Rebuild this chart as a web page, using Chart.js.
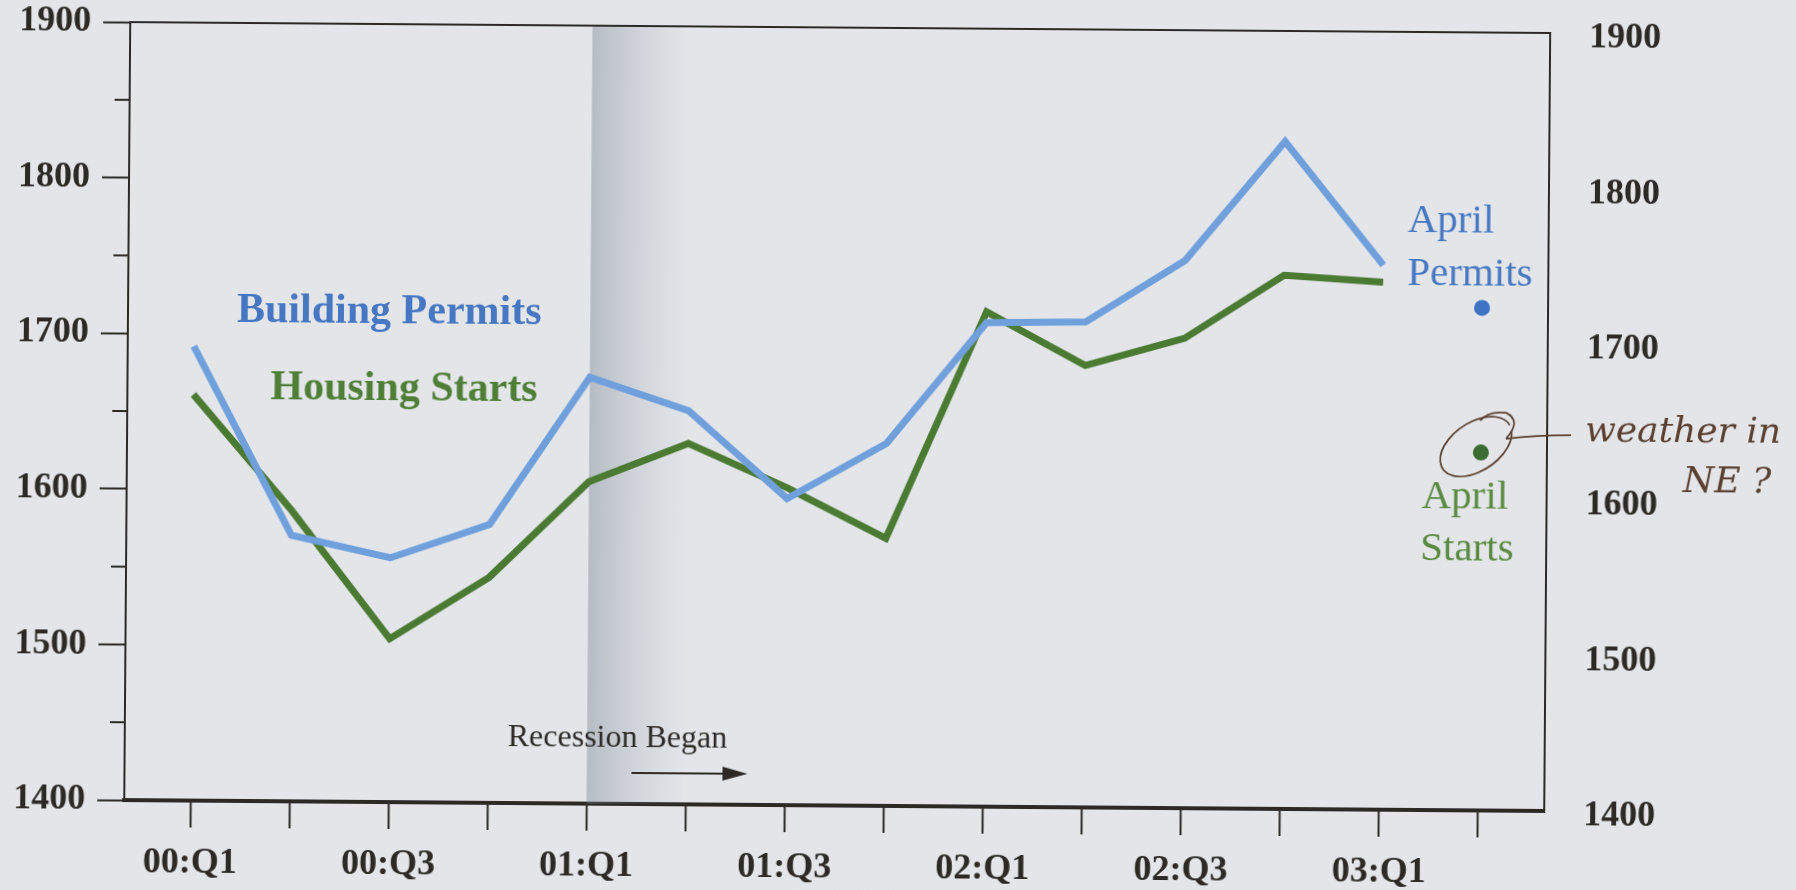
<!DOCTYPE html>
<html>
<head>
<meta charset="utf-8">
<script src="https://cdn.jsdelivr.net/npm/chart.js@4.4.1/dist/chart.umd.min.js"></script>
<style>
  html, body { margin: 0; padding: 0; background: #e3e5e9; overflow: hidden; }
  #wrap { width: 1796px; height: 890px; transform: rotate(0.44deg); transform-origin: 50% 50%; }
  canvas { display: block; }
</style>
</head>
<body>
<div id="wrap"><canvas id="chart" width="1796" height="890"></canvas></div>
<script>
// Quarterly housing data, thousands of units (annual rate)
const quarters = ['00:Q1', '00:Q2', '00:Q3', '00:Q4', '01:Q1', '01:Q2', '01:Q3',
                  '01:Q4', '02:Q1', '02:Q2', '02:Q3', '02:Q4', '03:Q1', '03:Q2'];
const buildingPermits = [1692, 1571, 1557, 1579, 1674, 1653, 1597, 1633, 1711, 1712, 1752, 1829, 1750];
const housingStarts   = [1661, 1587, 1505, 1545, 1607, 1632, 1604, 1572, 1718, 1684, 1702, 1743, 1739];
const aprilPermits = 1723;
const aprilStarts = 1630;
const aprilIndex = 13;          // April reading sits on the 03:Q2 slot
const recessionStartIndex = 4;  // 01:Q1
const yMin = 1400, yMax = 1900;

const INK = '#2d2a26';
const BG = '#e3e5e9';
const BLUE_LINE = '#70a0dc';
const GREEN_LINE = '#4b7a33';
const BLUE_TEXT = '#4677c2';
const GREEN_TEXT = '#4f7f36';
const PEN = '#5b4030';
const SERIF = '"Liberation Serif", "Times New Roman", serif';

const toPoints = arr => arr.map((v, i) => ({ x: i, y: v }));

// keep the plot frame fixed: no extra room reserved for half-labels
const fixVertical = w => s => { s.width = w; s.paddingTop = 0; s.paddingBottom = 0; };
const fixHorizontal = h => s => { s.height = h; s.paddingLeft = 0; s.paddingRight = 0; };

const backgroundPlugin = {
  id: 'paper',
  beforeDraw(chart) {
    const ctx = chart.ctx;
    ctx.save();
    ctx.fillStyle = BG;
    ctx.fillRect(0, 0, chart.width, chart.height);
    ctx.restore();
  }
};

const recessionPlugin = {
  id: 'recession',
  beforeDatasetsDraw(chart) {
    const { ctx, chartArea: a, scales: { x } } = chart;
    const x0 = x.getPixelForValue(recessionStartIndex);
    const x1 = x.getPixelForValue(recessionStartIndex + 1);
    const g = ctx.createLinearGradient(x0, 0, x1, 0);
    g.addColorStop(0, 'rgba(118,130,144,0.42)');
    g.addColorStop(0.12, 'rgba(118,130,144,0.34)');
    g.addColorStop(0.5, 'rgba(118,130,144,0.16)');
    g.addColorStop(1, 'rgba(118,130,144,0)');
    ctx.save();
    ctx.fillStyle = g;
    ctx.fillRect(x0, a.top, x1 - x0, a.bottom - a.top);
    ctx.restore();
  }
};

const framePlugin = {
  id: 'frame',
  afterDraw(chart) {
    const { ctx, chartArea: a, scales: { y } } = chart;
    ctx.save();
    ctx.strokeStyle = INK;
    // top edge of the frame
    ctx.lineWidth = 2;
    ctx.beginPath();
    ctx.moveTo(a.left - 1, a.top);
    ctx.lineTo(a.right + 1, a.top);
    ctx.stroke();
    // short minor ticks at the 50s on the left axis
    for (let v = yMin + 50; v < yMax; v += 100) {
      const py = y.getPixelForValue(v);
      ctx.beginPath();
      ctx.moveTo(a.left - 15, py);
      ctx.lineTo(a.left, py);
      ctx.stroke();
    }
    ctx.restore();
  }
};

const labelPlugin = {
  id: 'labels',
  afterDatasetsDraw(chart) {
    const { ctx, scales: { x, y } } = chart;
    ctx.save();
    ctx.textAlign = 'left';
    ctx.textBaseline = 'alphabetic';

    // series names
    ctx.font = 'bold 42px ' + SERIF;
    ctx.fillStyle = BLUE_TEXT;
    ctx.fillText('Building Permits', 236, 327);
    ctx.fillStyle = GREEN_TEXT;
    ctx.fillText('Housing Starts', 270, 404);

    // recession marker
    ctx.font = '32px ' + SERIF;
    ctx.fillStyle = INK;
    ctx.fillText('Recession Began', 510, 749);
    ctx.strokeStyle = INK;
    ctx.lineWidth = 2;
    ctx.beginPath();
    ctx.moveTo(634, 775);
    ctx.lineTo(728, 775);
    ctx.stroke();
    ctx.fillStyle = INK;
    ctx.beginPath();
    ctx.moveTo(750, 775);
    ctx.lineTo(725, 768);
    ctx.lineTo(725, 782);
    ctx.closePath();
    ctx.fill();

    // April readings
    ctx.font = '41px ' + SERIF;
    ctx.fillStyle = BLUE_TEXT;
    ctx.fillText('April', 1406, 228);
    ctx.fillText('Permits', 1406, 281);
    ctx.fillStyle = '#5a8a40';
    ctx.fillText('April', 1422, 504);
    ctx.fillText('Starts', 1421, 556);

    // pen note circling the April starts reading
    const cx = x.getPixelForValue(aprilIndex) - 5;
    const cy = y.getPixelForValue(aprilStarts) - 6;
    ctx.strokeStyle = PEN;
    ctx.lineWidth = 1.7;
    ctx.beginPath();
    ctx.ellipse(cx, cy, 40, 24, -0.6, 0.3, 2 * Math.PI + 0.05);
    ctx.stroke();
    ctx.beginPath();
    ctx.moveTo(cx + 30, cy - 8);
    ctx.quadraticCurveTo(cx + 46, cy - 26, cx + 30, cy - 34);
    ctx.quadraticCurveTo(cx + 12, cy - 36, cx + 4, cy - 26);
    ctx.stroke();
    ctx.beginPath();
    ctx.moveTo(cx + 30, cy - 8);
    ctx.quadraticCurveTo(cx + 60, cy - 12, cx + 95, cy - 12);
    ctx.stroke();
    ctx.font = 'italic 36px "DejaVu Serif", serif';
    ctx.fillStyle = PEN;
    ctx.fillText('weather in', 1585, 436);
    ctx.fillText('NE ?', 1683, 486);
    ctx.restore();
  }
};

new Chart(document.getElementById('chart'), {
  type: 'line',
  data: {
    datasets: [
      {
        label: 'Housing Starts',
        data: toPoints(housingStarts),
        borderColor: GREEN_LINE,
        borderWidth: 7,
        pointRadius: 0,
        tension: 0,
        borderJoinStyle: 'miter',
        order: 2
      },
      {
        label: 'Building Permits',
        data: toPoints(buildingPermits),
        borderColor: BLUE_LINE,
        borderWidth: 7,
        pointRadius: 0,
        tension: 0,
        borderJoinStyle: 'miter',
        order: 1
      },
      {
        label: 'April Permits',
        data: [{ x: aprilIndex, y: aprilPermits }],
        showLine: false,
        pointRadius: 8,
        pointBackgroundColor: '#3f74c4',
        pointBorderWidth: 0
      },
      {
        label: 'April Starts',
        data: [{ x: aprilIndex, y: aprilStarts }],
        showLine: false,
        pointRadius: 8,
        pointBackgroundColor: '#3b6d33',
        pointBorderWidth: 0
      }
    ]
  },
  options: {
    responsive: false,
    animation: false,
    devicePixelRatio: 1,
    layout: { padding: { top: 28, left: 0, right: 0, bottom: 0 } },
    plugins: { legend: { display: false }, tooltip: { enabled: false } },
    scales: {
      x: {
        type: 'linear',
        position: 'bottom',
        min: -2 / 3,
        max: quarters.length - 1 + 2 / 3,
        afterFit: fixHorizontal(84),
        border: { display: true, color: INK, width: 4 },
        grid: { drawOnChartArea: false, drawTicks: true, tickLength: 27, tickWidth: 2, tickColor: INK },
        ticks: {
          stepSize: 1,
          includeBounds: false,
          autoSkip: false,
          maxRotation: 0,
          padding: 14,
          color: INK,
          font: { family: SERIF, size: 36, weight: 'bold' },
          callback: v => (Number.isInteger(v) && v % 2 === 0 && quarters[v]) ? quarters[v] : ''
        }
      },
      y: {
        type: 'linear',
        position: 'left',
        min: yMin,
        max: yMax,
        afterFit: fixVertical(127),
        border: { display: true, color: INK, width: 2 },
        grid: {
          drawOnChartArea: false, drawTicks: true, tickLength: 27, tickWidth: 2,
          tickColor: c => (c.tick && c.tick.value % 100 === 0) ? INK : 'rgba(0,0,0,0)'
        },
        ticks: {
          stepSize: 50,
          autoSkip: false,
          padding: 12,
          color: INK,
          font: { family: SERIF, size: 36, weight: 'bold' },
          callback: v => v % 100 === 0 ? String(v) : ''
        }
      },
      y2: {
        type: 'linear',
        position: 'right',
        min: yMin,
        max: yMax,
        afterFit: fixVertical(249),
        border: { display: true, color: INK, width: 2 },
        grid: { display: false, drawTicks: false },
        ticks: {
          stepSize: 100,
          autoSkip: false,
          padding: 39,
          labelOffset: 5,
          color: INK,
          font: { family: SERIF, size: 36, weight: 'bold' },
          callback: v => String(v)
        }
      }
    }
  },
  plugins: [backgroundPlugin, recessionPlugin, framePlugin, labelPlugin]
});
</script>
</body>
</html>
